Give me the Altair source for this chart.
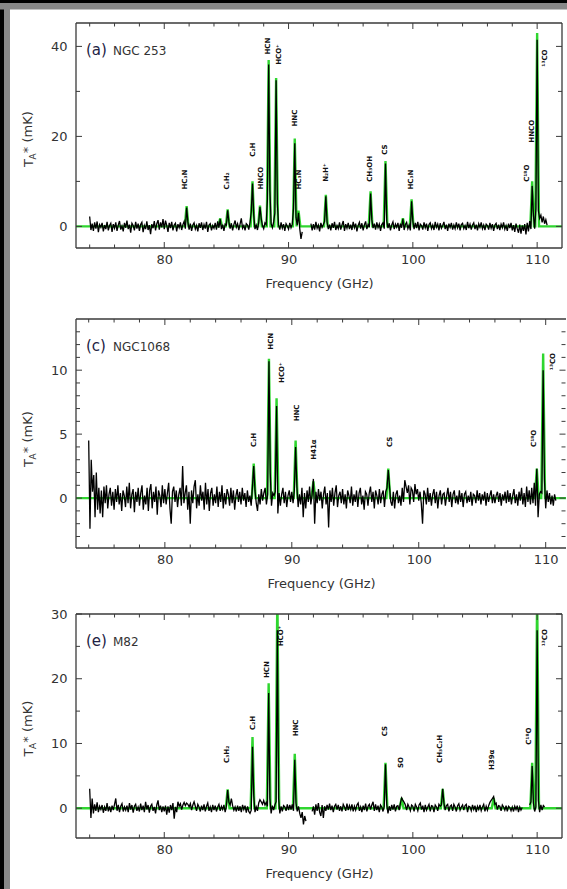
import altair as alt
import pandas as pd

# ---------------- data ----------------
STEP = 0.1
START = 74.0

# NGC 253 spectrum (mK), 0.1 GHz channels from 74.0 GHz; None = no data
p1_vals = [
    2.2, -0.8, 0.6, -1.0, 0.9, -0.5, 1.1, -1.3, 0.4, -0.2,   # 74
    0.8, -1.1, 0.3, -0.6, 1.0, -0.9, 0.2, 0.7, -1.2, 0.5,    # 75
    -0.4, 0.9, -1.0, 0.3, 1.2, -0.7, 0.1, -1.1, 0.8, -0.3,   # 76
    1.3, -0.6, 0.4, -1.4, 0.7, 0.2, -0.9, 1.0, -0.5, 0.6,    # 77
    -1.0, 0.4, 0.9, -1.3, 0.2, -0.6, 1.1, -0.8, 0.3, -1.7,   # 78
    0.5, -0.4, 1.2, -0.9, 0.6, 1.4, -0.7, 0.9, -0.2, 1.6,    # 79
    -0.6, 1.3, 0.2, -1.2, 0.8, -0.4, 1.0, -0.9, 0.3, 0.7,    # 80
    -1.1, 0.5, -0.3, 0.9, -0.8, 0.4, 1.1, -0.5, 4.2, 1.0,    # 81
    -0.7, 0.6, -1.0, 0.3, 0.8, -0.6, 0.2, -1.1, 0.7, -0.3,   # 82
    0.9, -0.8, 0.4, -0.5, 1.0, -1.2, 0.3, 0.6, -0.9, 0.2,    # 83
    -0.4, 0.8, -0.7, 1.1, -0.3, 1.6, -0.6, 0.4, -1.0, 0.5,   # 84
    0.3, 3.6, 1.0, -0.5, 0.7, -0.9, 0.4, 1.3, -0.2, 0.6,     # 85
    -0.8, 0.5, 1.8, -0.4, 0.2, -0.9, 0.6, 0.3, -0.7, 0.9,    # 86
    3.2, 9.5, 2.5, -0.6, 0.3, -0.8, 0.9, 4.3, 1.8, 0.2,      # 87
    -0.5, 0.8, 0.4, 6.0, 36.0, 8.0, 0.6, -0.3, 1.0, 3.0,     # 88
    32.5, 5.0, 0.2, -0.7, 0.9, -0.4, 0.5, -1.0, 0.6, 0.1,    # 89
    -0.6, 0.8, -0.3, 0.5, 4.0, 18.5, 2.0, 0.3, 3.0, -0.5,    # 90
    -2.8, -1.2, None, None, None, None, None, None, 0.6, -0.9,  # 91
    0.5, -0.7, 1.0, -0.4, 0.3, -1.1, 0.8, -0.2, 0.4, 1.1,    # 92
    6.7, 0.9, -0.6, 0.4, -0.9, 0.7, -0.3, 1.0, -0.8, 0.2,    # 93
    -0.5, 0.9, -0.7, 0.3, 1.2, -1.0, 0.5, -0.4, 0.8, -0.6,   # 94
    0.4, -0.8, 1.0, -0.3, 0.6, -1.1, 0.2, 0.9, -0.5, 0.7,    # 95
    -0.9, 0.3, 1.1, -0.6, 0.4, -0.2, 7.3, 1.5, -0.4, 0.6,    # 96
    -0.7, 0.9, -0.3, 0.5, -1.0, 0.4, 0.8, -0.5, 14.0, 1.2,   # 97
    -0.4, 0.7, -0.9, 0.3, 1.0, -0.6, 0.5, -0.2, 0.8, -1.0,   # 98
    0.6, -0.3, 1.7, -0.8, 0.4, 0.9, -0.5, 0.3, -0.9, 5.6,    # 99
    1.2, -0.6, 0.8, -0.4, 1.0, -0.9, 0.5, 0.2, -0.7, 0.9,    # 100
    -0.3, 0.6, -1.0, 0.4, 0.8, -0.5, 0.3, -0.8, 1.0, -0.2,   # 101
    0.5, -0.9, 0.7, -0.4, 0.2, 1.0, -0.6, 0.4, -1.0, 0.6,    # 102
    -0.2, 0.8, -0.7, 0.3, -0.5, 0.9, -0.3, 0.6, -0.9, 0.4,   # 103
    0.7, -0.5, 0.2, -0.8, 1.0, -0.4, 0.5, -0.7, 0.3, 0.8,    # 104
    -0.6, 0.4, -0.9, 0.6, -0.2, 0.9, -0.5, 0.3, -0.8, 0.5,   # 105
    0.2, -0.7, 0.8, -0.4, 0.5, -1.0, 0.3, 0.7, -0.6, 0.4,    # 106
    -0.8, 0.5, -0.3, 0.9, -0.6, 0.2, -1.0, 0.6, -0.4, 0.8,   # 107
    -0.9, 0.3, -1.2, 0.6, -0.5, -1.4, 0.4, -1.6, 0.2, -1.0,  # 108
    0.5, -1.8, 0.8, -1.1, 1.2, -0.6, 9.0, 2.5, -0.5, 4.0,    # 109
    41.5, 3.5, 1.8, 2.5, 0.9, 2.2, 0.6, 1.5, 0.3,            # 110
]

# NGC 1068 spectrum (mK)
p2_vals = [
    4.5, -2.4, 3.0, 0.5, 1.8, -1.5, 2.0, -0.9, 0.8, -1.2,    # 74
    0.6, -1.5, 0.9, -0.4, 1.0, -0.8, 0.3, 0.8, -0.6, 0.5,    # 75
    -0.9, 0.7, -0.3, 1.0, -0.5, 0.4, -1.0, 0.6, 0.2, -0.7,   # 76
    0.9, -0.4, 1.2, -0.8, 0.3, 0.7, -1.1, 0.5, -0.3, 0.8,    # 77
    -0.6, 0.4, 1.0, -0.9, 0.2, -0.5, 0.8, -1.0, 0.6, 1.1,    # 78
    -0.8, 0.5, -0.3, 0.9, -1.3, 0.6, 0.2, -0.7, 1.0, -0.4,   # 79
    0.7, -0.5, 0.4, 1.2, -0.8, -2.0, 0.5, 0.9, -0.3, 0.6,    # 80
    -0.7, 0.3, 0.8, -0.6, 2.5, -0.4, 0.4, 1.0, -0.9, 0.5,    # 81
    -2.0, 0.6, -0.4, 0.9, 1.4, -0.8, 0.3, -0.6, 1.0, -0.2,   # 82
    0.5, -0.9, 1.2, -0.5, 0.7, -1.0, 0.4, 0.8, -0.6, 0.3,    # 83
    -0.4, 0.9, -0.7, 0.5, -0.3, 1.0, -0.8, 0.4, -0.5, 0.7,   # 84
    0.3, -0.6, 0.8, -0.4, 0.6, -0.9, 0.2, 0.7, -0.3, 0.5,    # 85
    -0.5, 0.8, -0.2, 0.4, -0.7, 0.6, -0.3, 0.2, -0.6, 0.9,   # 86
    2.5, 0.6, -0.4, -1.0, 0.3, -0.5, 0.7, -0.2, 0.4, 0.8,    # 87
    -0.5, 0.3, 10.7, 2.0, -0.6, 0.4, 0.2, 0.5, 7.2, -1.2,    # 88
    0.4, -0.6, 0.3, 0.8, -0.4, 0.5, -0.7, 0.2, 0.6, -0.3,    # 89
    0.5, -0.4, 0.6, 4.0, 0.9, -0.7, 0.3, -0.5, 0.8, -1.5,    # 90
    0.4, -0.8, 0.6, -0.3, 0.9, -0.5, 0.3, 1.5, -2.0, 0.5,    # 91
    -0.4, 0.7, -0.2, 0.5, -0.8, 0.3, 0.9, -0.5, 0.4, -2.3,   # 92
    0.6, -0.3, 0.8, -0.6, 0.4, 1.0, -0.7, 0.2, 0.5, -0.4,    # 93
    0.7, -0.5, 0.3, -0.8, 0.6, 0.2, -0.4, 0.9, -0.6, 0.3,    # 94
    -0.3, 0.6, -0.7, 0.4, 0.8, -0.5, 0.2, -0.9, 0.5, 0.3,    # 95
    -0.6, 0.4, 0.9, -0.3, 0.5, -0.8, 0.6, 0.2, -0.5, 0.7,    # 96
    -0.4, 0.3, 0.6, -0.7, 0.5, 0.8, 2.2, 0.9, -0.3, -0.6,    # 97
    0.5, -0.8, 0.3, 0.6, -0.4, 0.2, -0.6, 0.8, -0.3, 1.4,    # 98
    0.9, 0.4, 1.0, -0.5, 0.8, 0.6, -0.3, 1.1, 0.3, 0.7,      # 99
    -0.2, 0.5, -0.4, -2.0, 0.6, 0.3, -0.5, 0.8, -0.3, 0.4,   # 100
    -0.6, 0.3, 0.7, -0.4, 0.5, -0.8, 0.2, 0.6, -0.5, 0.3,    # 101
    0.4, -0.6, 0.2, 0.8, -0.3, 0.5, -0.7, 0.3, 0.6, -0.4,    # 102
    0.2, -0.5, 0.6, -0.3, 0.4, -0.7, 0.3, 0.5, -0.4, 0.2,    # 103
    -0.3, 0.5, -0.6, 0.3, 0.2, -0.4, 0.6, -0.2, 0.4, -0.5,   # 104
    0.3, -0.2, 0.5, -0.6, 0.4, -0.3, 0.2, 0.6, -0.4, 0.3,    # 105
    -0.4, 0.2, 0.5, -0.3, 0.4, -0.6, 0.3, -0.2, 0.5, -0.4,   # 106
    0.6, -0.3, 0.4, -0.5, 0.2, 0.7, -0.4, 0.3, -0.6, 0.5,    # 107
    -0.2, 0.8, -0.5, 0.4, -0.7, 0.9, -0.3, 0.6, -0.5, 0.8,   # 108
    -0.4, 1.2, -0.6, 2.3, -1.5, 0.3, 0.5, 0.4, 10.0, 1.5,    # 109
    -0.8, 0.6, -0.3, 0.4, -0.5, 0.2, -0.6, 0.3, -0.2,        # 110
]

# M82 spectrum (mK)
p3_vals = [
    3.0, -1.5, 1.5, -0.8, 0.6, -0.4, 0.9, -0.6, 0.3, -0.2,   # 74
    0.5, -0.7, 0.2, -0.4, 0.8, -0.5, 0.3, -0.6, 0.4, -0.3,   # 75
    0.6, 1.5, -0.4, 0.5, -0.6, 0.3, 0.7, -0.5, 0.2, -0.3,    # 76
    0.4, -0.6, 0.8, -0.2, 0.5, -0.7, 0.3, 0.6, -0.4, 0.2,    # 77
    -0.5, 0.7, -0.3, 0.4, -0.6, 1.0, -0.2, 0.5, -0.7, 0.3,   # 78
    0.6, -0.4, 0.2, -0.8, 0.5, 1.2, -0.3, 0.4, -0.6, 0.3,    # 79
    -0.5, 0.4, -1.0, 0.3, -0.7, 0.5, -0.3, 0.8, -1.6, 0.2,   # 80
    -0.6, 1.0, 0.3, 0.7, -0.2, 0.5, 0.9, 0.4, 0.8, 0.6,      # 81
    0.2, 0.7, -0.3, 0.5, 1.0, 0.3, -0.4, 0.6, 0.2, -0.5,     # 82
    0.4, -0.3, 0.6, -0.5, 0.3, 0.8, -0.4, 0.2, -0.6, 0.5,    # 83
    -0.3, 0.4, -0.5, 0.2, 0.6, -0.4, 0.3, -0.2, 0.5, -0.6,   # 84
    0.3, 2.8, 0.9, 0.5, 1.5, 0.4, -0.3, 0.2, -0.5, 0.4,      # 85
    -0.4, 0.3, -0.6, 0.5, -0.2, 0.4, -0.7, 0.3, -0.5, -0.8,  # 86
    -0.3, 9.5, 2.0, -0.6, 0.2, -0.4, 0.8, 1.3, 1.0, 0.6,     # 87
    1.2, 0.5, 0.9, 0.3, 17.8, 1.5, -0.8, 0.4, -0.3, 0.5,     # 88
    1.0, 27.5, 1.5, -0.8, 0.3, -0.5, 0.4, 0.2, -0.4, 0.6,    # 89
    -0.3, 0.5, -0.2, 0.6, -0.4, 7.5, 0.8, -0.5, 0.3, -0.8,   # 90
    -1.5, -0.6, -2.5, -1.2, -2.0, None, None, None, None, -0.5,  # 91
    0.3, -1.0, 0.6, -0.4, 0.8, -0.6, -1.2, 0.5, -1.5, 0.3,   # 92
    -0.4, 0.5, -0.2, 0.7, -0.3, 0.4, -0.6, 0.3, 0.6, -0.2,   # 93
    0.5, -0.4, 0.3, -0.5, 0.6, 0.2, -0.4, 0.7, -0.3, 0.4,    # 94
    -0.2, 0.6, -0.5, 0.3, -0.3, 0.5, 0.8, -0.4, 0.2, -0.6,   # 95
    0.4, -0.3, 0.7, -0.5, 0.3, 0.6, -0.2, 0.5, 1.0, -0.4,    # 96
    0.6, -0.3, 0.4, -0.6, 0.5, 0.2, -0.5, 0.3, 6.8, 0.6,     # 97
    -0.8, 0.3, -0.4, 0.5, -0.2, 0.6, -0.5, 0.3, 0.4, -0.3,   # 98
    0.8, 1.6, 1.2, 0.9, 0.5, -0.3, 0.6, 0.2, -0.4, 0.5,      # 99
    0.3, -0.5, 0.6, 0.2, -0.4, 0.5, 0.8, -0.2, 0.4, -0.6,    # 100
    0.5, -0.3, 0.2, 0.6, -0.5, 0.4, 0.3, -0.6, 0.5, 0.2,     # 101
    -0.4, 0.6, 0.3, 0.5, 3.0, 0.8, -0.3, 0.4, 0.6, -0.5,     # 102
    0.3, 0.5, -0.4, 0.6, 0.2, -0.5, 0.4, 0.7, -0.3, 0.2,     # 103
    0.5, -0.3, 0.4, 0.6, -0.6, 0.3, 0.2, -0.4, 0.5, -0.2,    # 104
    0.4, -0.6, 0.3, -0.2, 0.5, -0.4, 0.2, 0.6, -0.5, 0.3,    # 105
    -0.3, 0.4, 0.9, 1.2, 1.5, 1.8, 0.6, 0.8, -0.2, 0.4,      # 106
    0.3, -0.4, 0.5, 0.2, -0.3, 0.4, -0.5, 0.3, 0.1, -0.4,    # 107
    0.2, -0.5, 0.3, -0.2, 0.4, -0.6, 0.2, -0.3, 0.1, None,   # 108
    None, None, None, None, 0.5, 1.0, 6.5, 0.8, -0.5, 0.2,   # 109
    27.5, 1.2, -0.6, 0.5, -0.3, 0.4, 0.2,                    # 110
]

# fitted line models (green): line centre (GHz), peak (mK)
p1_fit_f = [81.8, 84.5, 85.1, 87.1, 87.7, 88.4, 89.0, 90.5, 90.8, 93.0, 96.6, 97.8, 99.2, 99.9, 109.6, 110.0]
p1_fit_a = [4.5, 1.8, 3.8, 10.0, 4.6, 37.0, 33.0, 19.5, 3.5, 7.0, 7.8, 14.5, 1.8, 6.0, 10.0, 43.0]
p2_fit_f = [87.0, 88.2, 88.8, 90.3, 91.7, 97.6, 109.3, 109.8]
p2_fit_a = [2.7, 10.9, 7.8, 4.5, 1.3, 2.3, 2.3, 11.3]
p3_fit_f = [85.1, 87.1, 88.4, 89.1, 90.5, 97.8, 99.1, 102.4, 106.5, 109.6, 110.0]
p3_fit_a = [2.9, 11.0, 19.3, 33.0, 8.4, 7.0, 1.6, 3.0, 1.6, 7.0, 33.0]

# line identifications: text, frequency, value at start of (vertical) label
p1_lab_t = ["HC₃N", "C₃H₂", "C₂H", "HNCO", "HCN", "HCO⁺", "HNC", "HC₃N", "N₂H⁺", "CH₃OH", "CS", "HC₃N", "C¹⁸O", "HNCO", "¹³CO"]
p1_lab_f = [81.64, 85.02, 87.1, 87.75, 88.31, 89.2, 90.48, 90.88, 93.05, 96.59, 97.8, 99.86, 109.21, 109.61, 110.66]
p1_lab_v = [8.2, 8.2, 15.5, 8.2, 38.2, 35.9, 22.2, 8.2, 9.9, 9.9, 15.9, 8.2, 9.9, 18.6, 35.5]
p2_lab_t = ["C₂H", "HCN", "HCO⁺", "HNC", "H41α", "CS", "C¹⁸O", "¹³CO"]
p2_lab_f = [87.04, 88.38, 89.24, 90.43, 91.76, 97.75, 109.05, 110.58]
p2_lab_v = [4.0, 11.6, 9.0, 6.0, 3.0, 4.0, 4.0, 10.0]
p3_lab_t = ["C₃H₂", "C₂H", "HCN", "HCO⁺", "HNC", "CS", "SO", "CH₃C₂H", "H39α", "C¹⁸O", "¹³CO"]
p3_lab_f = [85.02, 87.1, 88.28, 89.39, 90.61, 97.72, 99.04, 102.22, 106.37, 109.36, 110.66]
p3_lab_v = [7.0, 12.1, 20.1, 25.0, 11.1, 11.1, 6.2, 7.0, 5.9, 9.8, 25.0]

# axes
x_labels = [80, 90, 100, 110]
x_minor = [74, 76, 78, 82, 84, 86, 88, 92, 94, 96, 98, 102, 104, 106, 108]
p1_y_labels = [0, 20, 40]
p1_y_minor = [10, 30]
p2_y_labels = [0, 5, 10]
p2_y_minor = [-3, -2, -1, 1, 2, 3, 4, 6, 7, 8, 9, 11, 12, 13]
p3_y_labels = [0, 10, 20, 30]
p3_y_minor = [5, 15, 25]

panel_tag = ["(a)", "(c)", "(e)"]
panel_name = ["NGC 253", "NGC1068", "M82"]

# ---------------- style ----------------
GREEN = "#2fd62f"
FRAME = "#3a3a3a"
TXT = "#333333"
GRAY = "#878787"
AXF = "DejaVu Sans"
LEFT = 76  # px from page edge to plot frame
OVL = 3    # overlap of page-border pieces between panels 1 and 2


def spectrum_df(vals):
    rows, seg, gap = [], 0, False
    for i, v in enumerate(vals):
        if v is None:
            if not gap:
                seg += 1
            gap = True
            continue
        gap = False
        rows.append({"f": round(START + i * STEP, 3), "v": v, "seg": seg})
    return pd.DataFrame(rows)


def model_df(fs, amps, xdom, hw=0.15):
    pts = [(xdom[0], 0.0), (xdom[1], 0.0)]
    for f, a in zip(fs, amps):
        pts += [(f - hw, 0.0), (f, a), (f + hw, 0.0)]
    pts.sort()
    return pd.DataFrame(pts, columns=["f", "v"])


ONE = pd.DataFrame({"k": [0]})


def panel(vals, fit_f, fit_a, lab_t, lab_f, lab_v, y_labels, y_minor,
          xdom, ydom, W, H, top_ext, bot_ext, idx, right_frame=True, top_border=False,
          ytitle_start=None):
    X = alt.X("f:Q", scale=alt.Scale(domain=xdom, nice=False, zero=False),
              axis=alt.Axis(values=x_labels, title="Frequency (GHz)", ticks=False, tickSize=0,
                            domain=False, grid=False, labelPadding=5, titlePadding=11,
                            labelFont=AXF, labelFontSize=13, labelColor=TXT, labelFlush=False,
                            titleFont=AXF, titleFontSize=13, titleFontWeight="normal",
                            titleColor=TXT, format="d"))
    Y = alt.Y("v:Q", scale=alt.Scale(domain=ydom, nice=False, zero=False),
              axis=alt.Axis(values=y_labels, title=None, ticks=False, tickSize=0, domain=False,
                            grid=False, labelPadding=9, labelFont=AXF, labelFontSize=13,
                            labelColor=TXT, format="d"))

    layers = []
    # green model
    layers.append(alt.Chart(model_df(fit_f, fit_a, xdom)).mark_line(
        color=GREEN, strokeWidth=2.4, clip=True).encode(x=X, y=Y))
    # black spectrum
    layers.append(alt.Chart(spectrum_df(vals)).mark_line(
        color="black", strokeWidth=1.3, clip=True).encode(x=X, y=Y, detail="seg:N"))
    # line labels
    ldf = pd.DataFrame({"t": lab_t, "f": lab_f, "v": lab_v})
    layers.append(alt.Chart(ldf).mark_text(
        angle=270, align="left", baseline="middle", font=AXF, fontSize=7, fontWeight="bold",
        color="#111111").encode(x=X, y=Y, text="t:N"))

    # inward ticks (x)
    def xt(vals_, length, top):
        return alt.Chart(pd.DataFrame({"f": vals_})).mark_rule(
            color=FRAME, strokeWidth=1).encode(
            x=X, y=alt.value(0 if top else H), y2=alt.value(length if top else H - length))
    layers += [xt(x_minor, 3.5, False), xt(x_labels, 6, False),
               xt(x_minor, 3.5, True), xt(x_labels, 6, True)]

    # inward ticks (y)
    def yt(vals_, length, right):
        xr = W - 0.5 if (right and not right_frame) else W
        return alt.Chart(pd.DataFrame({"v": vals_})).mark_rule(
            color=FRAME, strokeWidth=1).encode(
            y=Y, x=alt.value(xr if right else 0), x2=alt.value(xr - length if right else length))
    layers += [yt(y_minor, 4, False), yt(y_labels, 6, False),
               yt(y_minor, 4, True), yt(y_labels, 6, True)]

    # frame
    fr = dict(color=FRAME, strokeWidth=1.3)
    layers.append(alt.Chart(ONE).mark_rule(**fr).encode(x=alt.value(0), y=alt.value(0), y2=alt.value(H)))
    layers.append(alt.Chart(ONE).mark_rule(**fr).encode(x=alt.value(0), x2=alt.value(W), y=alt.value(H)))
    layers.append(alt.Chart(ONE).mark_rule(**fr).encode(x=alt.value(0), x2=alt.value(W), y=alt.value(0)))
    if right_frame:
        layers.append(alt.Chart(ONE).mark_rule(**fr).encode(x=alt.value(W), y=alt.value(0), y2=alt.value(H)))

    # panel tag and galaxy name
    layers.append(alt.Chart(ONE).mark_text(
        align="left", baseline="middle", font=AXF, fontSize=15, color="#222244").encode(
        x=alt.value(10), y=alt.value(27), text=alt.value(panel_tag[idx])))
    layers.append(alt.Chart(ONE).mark_text(
        align="left", baseline="middle", font=AXF, fontSize=12, color=TXT).encode(
        x=alt.value(37), y=alt.value(27.5), text=alt.value(panel_name[idx])))

    # y-axis title  T_A* (mK)
    ys = ytitle_start
    tt = dict(angle=270, align="left", baseline="middle", font=AXF, color=TXT)
    layers.append(alt.Chart(ONE).mark_text(fontSize=13, **tt).encode(
        x=alt.value(-47), y=alt.value(ys), text=alt.value("T")))
    layers.append(alt.Chart(ONE).mark_text(fontSize=9, **tt).encode(
        x=alt.value(-43), y=alt.value(ys - 7.6), text=alt.value("A")))
    layers.append(alt.Chart(ONE).mark_text(fontSize=13, **tt).encode(
        x=alt.value(-48), y=alt.value(ys - 13.8), text=alt.value("* (mK)")))

    # page border (grey frame on the left / top)
    layers.append(alt.Chart(ONE).mark_rect(color=GRAY).encode(
        x=alt.value(-LEFT), x2=alt.value(-LEFT + 10), y=alt.value(-top_ext), y2=alt.value(bot_ext)))
    layers.append(alt.Chart(ONE).mark_rect(color="black").encode(
        x=alt.value(-LEFT), x2=alt.value(-LEFT + 4), y=alt.value(-top_ext), y2=alt.value(bot_ext)))
    if top_border:
        layers.append(alt.Chart(ONE).mark_rect(color=GRAY).encode(
            x=alt.value(-LEFT), x2=alt.value(567 - LEFT), y=alt.value(-top_ext), y2=alt.value(-top_ext + 9.5)))
        layers.append(alt.Chart(ONE).mark_rect(color="black").encode(
            x=alt.value(-LEFT), x2=alt.value(567 - LEFT), y=alt.value(-top_ext), y2=alt.value(-top_ext + 3)))

    return alt.layer(*layers).properties(width=W, height=H)


# panel 1: canvas 0..297 (+3 overlap drawn by panel 2), plot 23..248
p1 = panel(p1_vals, p1_fit_f, p1_fit_a, p1_lab_t, p1_lab_f, p1_lab_v, p1_y_labels, p1_y_minor,
           [72.9, 112.0], [-4.8, 45.2], 486, 225, 23, 277 - OVL, 0, top_border=True,
           ytitle_start=144)
# panel 2: canvas 297..591, plot 319..548 (axis title ends inside its border piece)
p2 = panel(p2_vals, p2_fit_f, p2_fit_a, p2_lab_t, p2_lab_f, p2_lab_v, p2_y_labels, p2_y_minor,
           [73.0, 111.6], [-3.9, 14.0], 490, 229, 19 + OVL, 272, 1, right_frame=False,
           ytitle_start=148)
# panel 3: canvas 591..889, plot 614..838
p3 = panel(p3_vals, p3_fit_f, p3_fit_a, p3_lab_t, p3_lab_f, p3_lab_v, p3_y_labels, p3_y_minor,
           [72.9, 112.0], [-4.6, 30.0], 486, 224, 23, 275, 2,
           ytitle_start=142.5)

chart = alt.vconcat(p1, p2, p3, spacing=0, padding=0).configure(
    background="white").configure_view(stroke=None)

chart.save("out.html", embed_options={"renderer": "svg", "actions": False})
